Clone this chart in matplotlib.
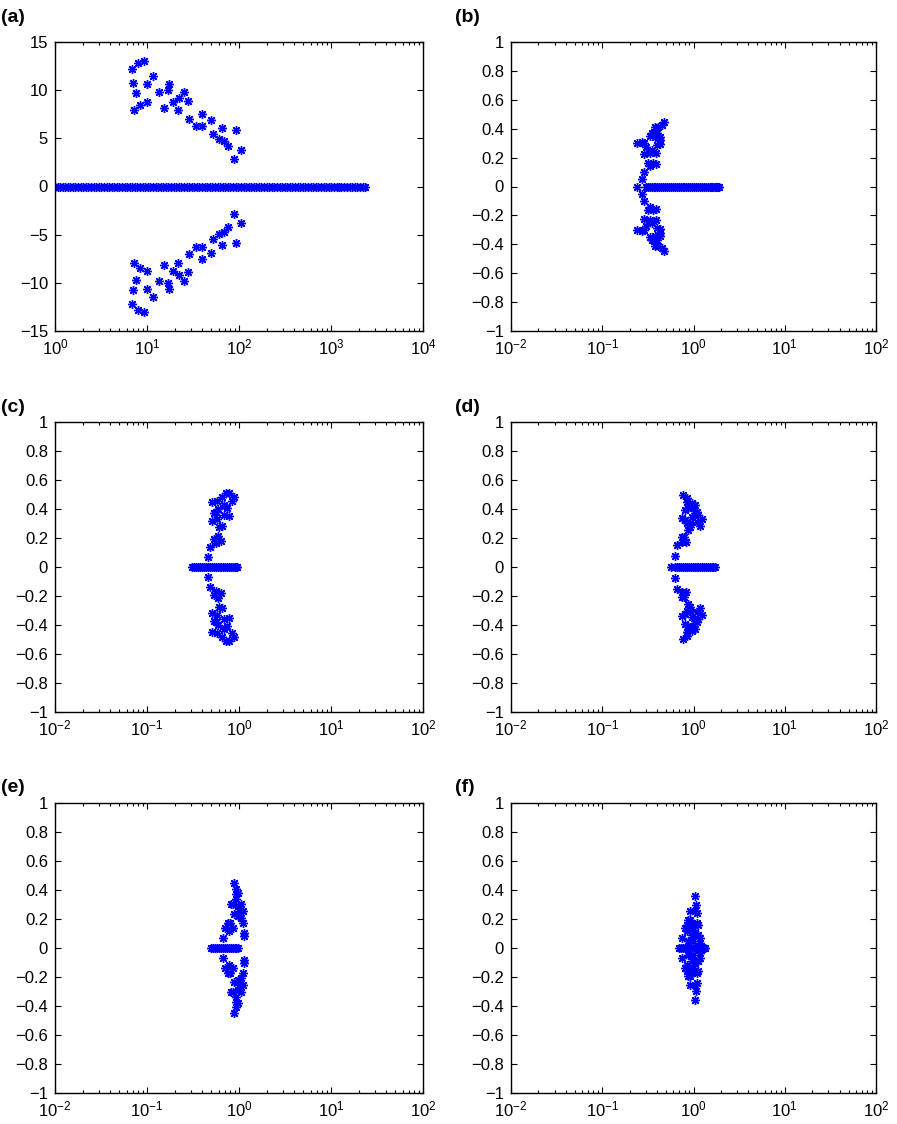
import matplotlib
matplotlib.use("Agg")
import matplotlib.pyplot as plt
from matplotlib.ticker import FixedLocator, FuncFormatter, LogLocator, NullFormatter

plt.rcParams['font.family'] = ['Liberation Sans Narrow', 'Liberation Sans', 'DejaVu Sans']
plt.rcParams['mathtext.fontset'] = 'custom'
plt.rcParams['mathtext.rm'] = 'Liberation Sans Narrow'
plt.rcParams['mathtext.it'] = 'Liberation Sans Narrow'

# ---------------- data (eigenvalues: real parts / positive imaginary parts) -------------
# (a)
a_real_axis = [1.00, 1.07, 1.14, 1.21, 1.29, 1.38, 1.47, 1.57, 1.67, 1.78, 1.90, 2.03, 2.16,
               2.31, 2.46, 2.63, 2.80, 2.99, 3.19, 3.40, 3.63, 3.87, 4.13, 4.40, 4.70, 5.01,
               5.35, 5.70, 6.08, 6.49, 6.92, 7.38, 7.88, 8.40, 8.97, 9.57, 10.2, 10.9, 11.6,
               12.4, 13.2, 14.1, 15.0, 16.0, 17.1, 18.2, 19.5, 20.8, 22.1, 23.6, 25.2, 26.9,
               28.7, 30.6, 32.6, 34.8, 37.1, 39.6, 42.3, 45.1, 48.1, 51.3, 54.7, 58.4, 62.3,
               66.5, 70.9, 75.7, 80.7, 86.1, 91.9, 98.0, 105, 112, 119, 127, 135, 144, 154,
               164, 175, 187, 200, 213, 227, 242, 258, 276, 294, 314, 335, 357, 381, 407, 434,
               463, 494, 527, 562, 600, 640, 683, 728, 777, 829, 885, 944, 1010, 1070, 1150,
               1220, 1300, 1390, 1490, 1590, 1690, 1810, 1930, 2060, 2200, 2350]
a_cplx_re = [6.86, 7.9, 9.18, 7.08, 7.5, 7.26, 8.37, 9.98, 10.07, 11.7, 13.6, 15.3, 17.5, 17.05,
             19.2, 21.7, 22.5, 25.3, 27.7, 28.9, 34.2, 39.4, 39.4, 49.7, 51.9, 60.3, 65.6, 69.5,
             75.0, 92.3, 89.3, 105.6]
a_cplx_im = [12.2, 12.85, 13.03, 10.78, 9.67, 7.94, 8.46, 8.8, 10.67, 11.47, 9.78, 8.12, 10.6,
             10.02, 8.74, 7.94, 9.22, 9.78, 8.84, 6.97, 6.28, 7.56, 6.28, 6.87, 5.42, 4.93, 6.04,
             4.75, 4.2, 5.87, 2.82, 3.82]

# (b)
b_real_axis = [0.24, 0.300, 0.315, 0.331, 0.347, 0.365, 0.383, 0.402, 0.422, 0.443, 0.465,
               0.489, 0.513, 0.539, 0.566, 0.594, 0.624, 0.655, 0.688, 0.722, 0.758, 0.796,
               0.836, 0.878, 0.922, 0.968, 1.02, 1.07, 1.12, 1.18, 1.24, 1.30, 1.36, 1.43,
               1.50, 1.55, 1.60, 1.65, 1.70, 1.75, 1.80, 1.85, 1.90]
b_cplx_re = [0.472, 0.453, 0.406, 0.382, 0.366, 0.399, 0.351, 0.337, 0.434, 0.382, 0.434, 0.240,
             0.273, 0.290, 0.305, 0.399, 0.427, 0.351, 0.285, 0.337, 0.392, 0.315, 0.337, 0.360,
             0.392, 0.290, 0.273]
b_cplx_im = [0.449, 0.426, 0.409, 0.414, 0.379, 0.368, 0.368, 0.349, 0.345, 0.340, 0.322, 0.299,
             0.310, 0.299, 0.276, 0.287, 0.294, 0.253, 0.225, 0.230, 0.230, 0.160, 0.142, 0.165,
             0.156, 0.098, 0.050]

# (c)
c_real_axis = [0.310, 0.326, 0.342, 0.359, 0.377, 0.396, 0.416, 0.436, 0.458, 0.481, 0.505,
               0.530, 0.557, 0.585, 0.614, 0.645, 0.677, 0.711, 0.746, 0.784, 0.823, 0.864,
               0.907, 0.935, 0.960]
c_cplx_re = [0.46, 0.48, 0.535, 0.596, 0.632, 0.567, 0.513, 0.581, 0.607, 0.659, 0.558, 0.596,
             0.687, 0.778, 0.747, 0.513, 0.581, 0.659, 0.717, 0.778, 0.883, 0.832, 0.687, 0.535]
c_cplx_im = [0.071, 0.136, 0.191, 0.214, 0.182, 0.168, 0.320, 0.329, 0.278, 0.283, 0.381, 0.398,
             0.359, 0.352, 0.405, 0.450, 0.457, 0.485, 0.508, 0.513, 0.485, 0.457, 0.428, 0.370]

# (d)
d_real_axis = [0.56, 0.630, 0.662, 0.695, 0.729, 0.766, 0.804, 0.844, 0.886, 0.931, 0.977,
               1.03, 1.08, 1.13, 1.19, 1.25, 1.31, 1.38, 1.44, 1.52, 1.59, 1.65, 1.72]
d_cplx_re = [0.627, 0.665, 0.741, 0.827, 0.786, 0.741, 0.878, 0.916, 0.841, 0.741, 0.807, 0.916,
             1.083, 1.178, 1.23, 0.807, 0.878, 0.995, 1.083, 1.129, 0.841, 0.955, 1.038, 0.772,
             0.841, 1.038, 0.955]
d_cplx_im = [0.076, 0.149, 0.170, 0.172, 0.205, 0.205, 0.255, 0.278, 0.301, 0.336, 0.324, 0.301,
             0.313, 0.283, 0.329, 0.393, 0.405, 0.405, 0.382, 0.359, 0.451, 0.439, 0.428, 0.497,
             0.474, 0.370, 0.347]

# (e)
e_real_axis = [0.500, 0.525, 0.551, 0.579, 0.608, 0.638, 0.670, 0.704, 0.739, 0.776, 0.815,
               0.855, 0.898, 0.935, 0.970]
e_cplx_re = [0.676, 0.704, 0.805, 0.853, 0.785, 0.889, 0.968, 1.051, 1.096, 1.143, 1.143, 0.853,
             0.968, 1.051, 1.009, 1.096, 0.927, 0.968, 0.927, 0.889, 0.818, 0.753, 0.927]
e_cplx_im = [0.071, 0.140, 0.175, 0.140, 0.117, 0.232, 0.221, 0.209, 0.175, 0.106, 0.083, 0.301,
             0.290, 0.301, 0.255, 0.255, 0.370, 0.382, 0.405, 0.450, 0.306, 0.175, 0.336]

# (f)
f_real_axis = [0.700, 0.735, 0.772, 0.810, 0.851, 0.893, 0.938, 0.985, 1.03, 1.09, 1.14, 1.20,
               1.26, 1.30, 1.33]
f_cplx_re = [1.038, 1.064, 0.916, 1.038, 1.083, 0.916, 0.955, 1.083, 1.129, 0.743, 0.808, 0.842,
             0.955, 1.038, 1.129, 1.177, 0.878, 0.996, 1.177, 0.842, 0.996, 0.878]
f_cplx_im = [0.361, 0.299, 0.253, 0.253, 0.241, 0.195, 0.172, 0.172, 0.161, 0.069, 0.138, 0.115,
             0.092, 0.103, 0.092, 0.069, 0.046, 0.046, 0.035, 0.161, 0.138, 0.195]

panel_labels = ['(a)', '(b)', '(c)', '(d)', '(e)', '(f)']
a_yticks = [-15, -10, -5, 0, 5, 10, 15]
other_yticks = [-1, -0.8, -0.6, -0.4, -0.2, 0, 0.2, 0.4, 0.6, 0.8, 1]

panels = [
    (a_real_axis, a_cplx_re, a_cplx_im),
    (b_real_axis, b_cplx_re, b_cplx_im),
    (c_real_axis, c_cplx_re, c_cplx_im),
    (d_real_axis, d_cplx_re, d_cplx_im),
    (e_real_axis, e_cplx_re, e_cplx_im),
    (f_real_axis, f_cplx_re, f_cplx_im),
]

# ---------------- layout -------------
W, H = 897, 1124
fig = plt.figure(figsize=(W / 100, H / 100), dpi=100)
cols = [(55, 423), (511, 876)]
rows = [(42, 331), (422, 712), (803, 1093)]
label_pos = [(1, 18), (455, 18), (1, 408), (455, 408), (1, 788), (455, 788)]

asterisk = (8, 2, 0)
blue = (0, 0, 1)
mk = dict(linestyle='none', marker=asterisk, color=blue, ms=6.5, mew=1.0)

def fmt_y(v, pos):
    s = f"{v:g}"
    return s.replace('-', '\u2212')

for i, (real_axis, cre, cim) in enumerate(panels):
    r, c = divmod(i, 2)
    x0, x1 = cols[c]
    y0, y1 = rows[r]
    ax = fig.add_axes([x0 / W, 1 - y1 / H, (x1 - x0) / W, (y1 - y0) / H])
    ax.set_xscale('log')
    ax.plot(real_axis, [0] * len(real_axis), **mk)
    ax.plot(cre, cim, **mk)
    ax.plot(cre, [-v for v in cim], **mk)
    if i == 0:
        ax.set_xlim(1, 1e4)
        ax.set_ylim(-15, 15)
        ax.yaxis.set_major_locator(FixedLocator(a_yticks))
    else:
        ax.set_xlim(1e-2, 1e2)
        ax.set_ylim(-1, 1)
        ax.yaxis.set_major_locator(FixedLocator(other_yticks))
    ax.yaxis.set_major_formatter(FuncFormatter(fmt_y))
    ax.xaxis.set_major_locator(LogLocator(base=10, numticks=10))
    ax.xaxis.set_minor_locator(LogLocator(base=10, subs=range(2, 10), numticks=20))
    ax.xaxis.set_minor_formatter(NullFormatter())
    ax.tick_params(which='both', direction='in', top=True, right=True, width=0.8,
                   labelsize=12, colors='black')
    ax.tick_params(which='major', length=4, pad=5)
    ax.tick_params(which='minor', length=2)
    for sp in ax.spines.values():
        sp.set_linewidth(1.0)
    lx, ly = label_pos[i]
    fig.text(lx / W, 1 - ly / H, panel_labels[i], fontsize=14, fontweight='bold',
             family=['Liberation Sans', 'DejaVu Sans'], va='center', ha='left')

fig.savefig('out.png', dpi=100)
